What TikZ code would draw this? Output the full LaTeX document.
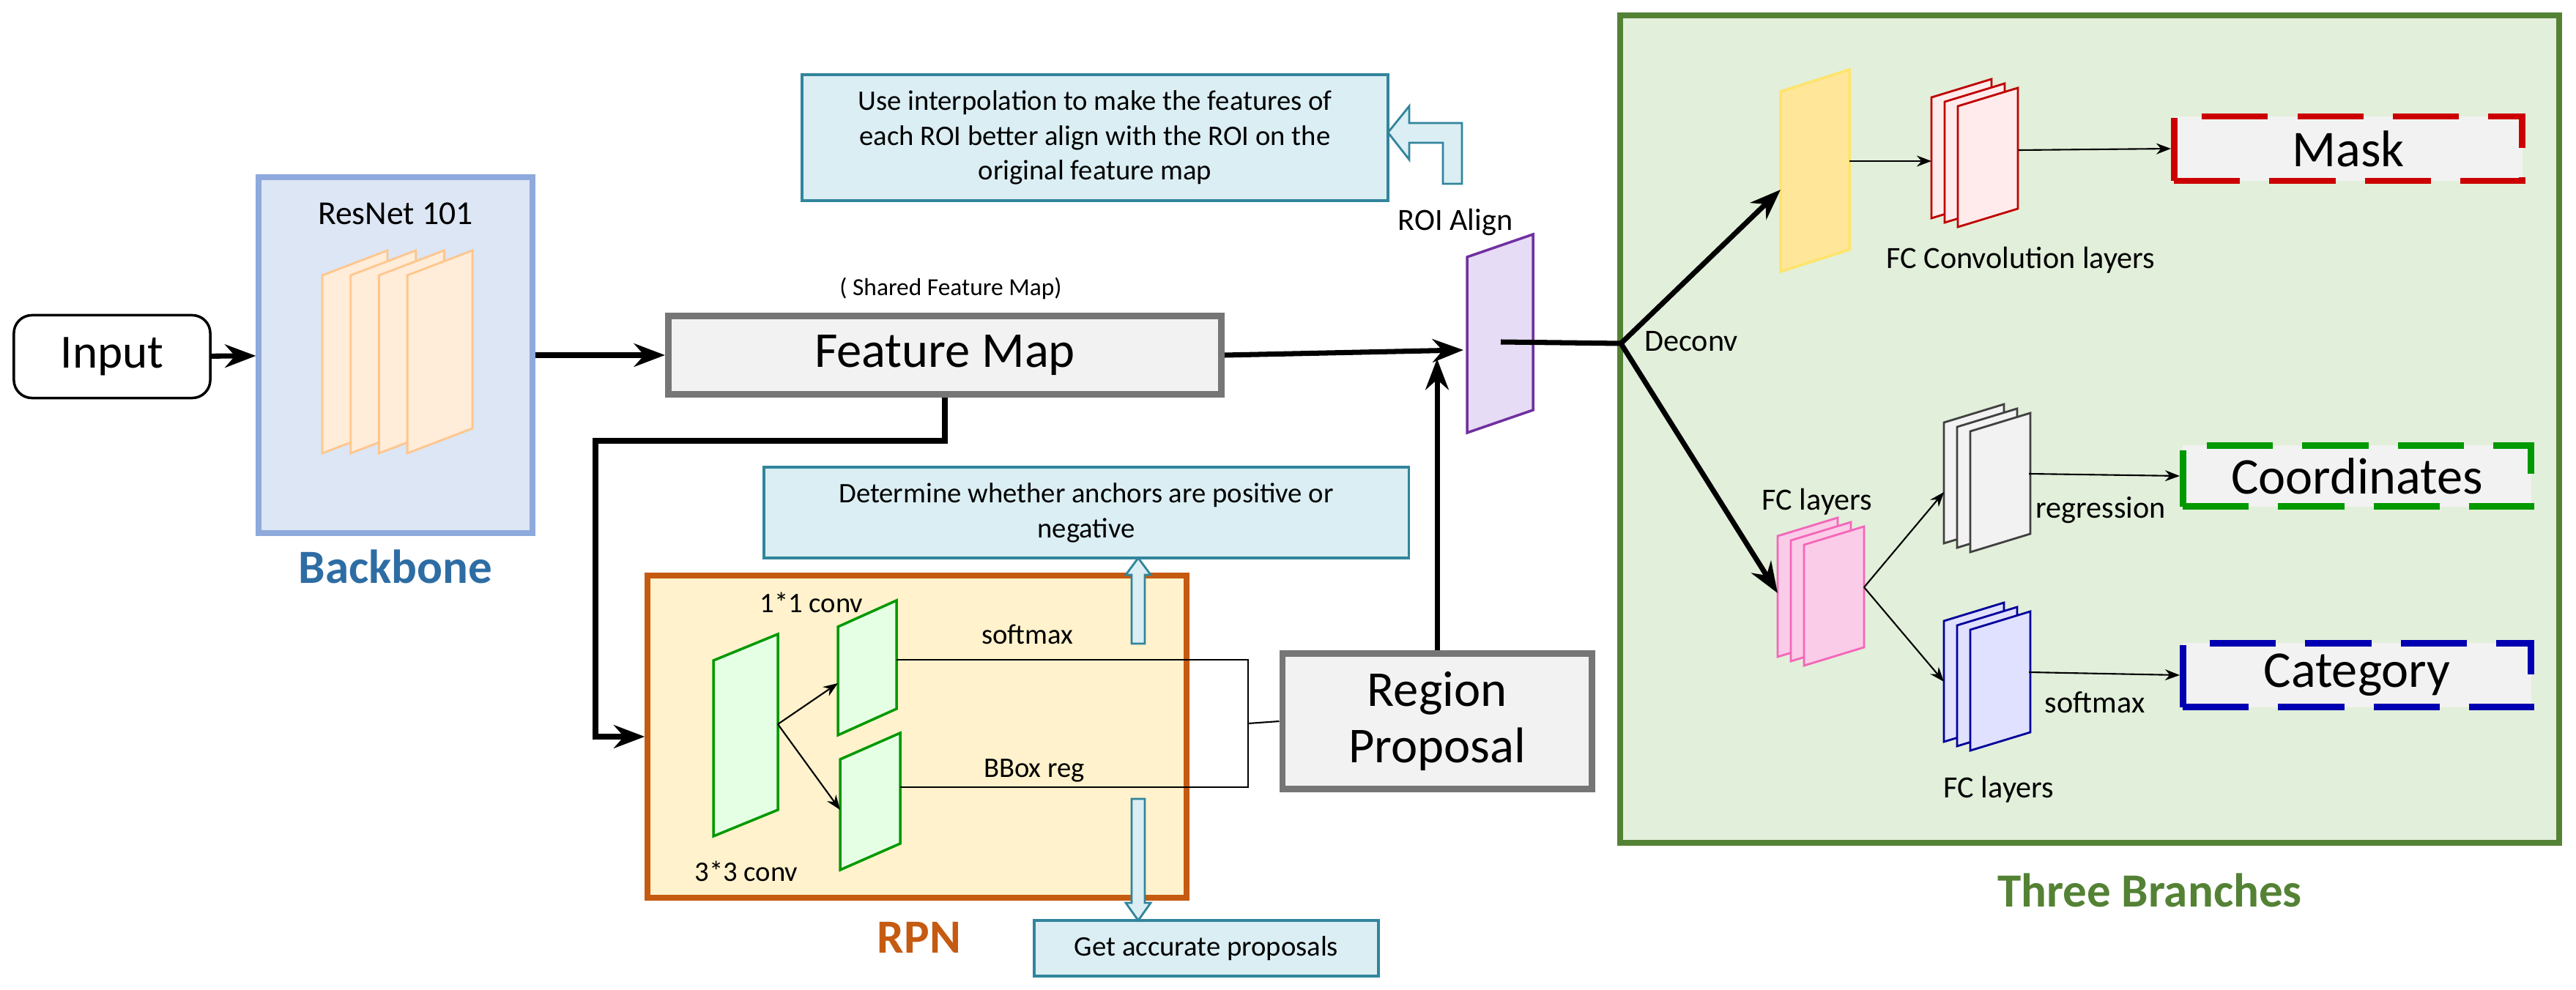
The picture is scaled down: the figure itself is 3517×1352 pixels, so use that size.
\documentclass[tikz,border=0pt]{standalone}
\usepackage{fontspec}
\setmainfont{Carlito}
\usepackage{tikz}
\usetikzlibrary{arrows.meta,positioning,calc}
\tikzset{>={Stealth[scale=1]}}

\definecolor{bbline}{HTML}{8EA9DB}
\definecolor{bbfill}{HTML}{DCE6F4}
\definecolor{bbtext}{HTML}{2E6DA4}
\definecolor{rpnline}{HTML}{C55A11}
\definecolor{rpnfill}{HTML}{FFF2CC}
\definecolor{brline}{HTML}{548235}
\definecolor{brfill}{HTML}{E2EFDA}
\definecolor{noteline}{HTML}{31859C}
\definecolor{notefill}{HTML}{DAEEF3}
\definecolor{mapline}{HTML}{767676}
\definecolor{mapfill}{HTML}{F2F2F2}
\definecolor{roiline}{HTML}{7030A0}
\definecolor{roifill}{HTML}{E6DCF5}
\definecolor{yelline}{HTML}{FFE46B}
\definecolor{yelfill}{HTML}{FFE699}

\tikzset{
  fs/.style n args={2}{font=\fontsize{#1}{#2}\selectfont},
  main/.style={draw=mapline, fill=mapfill, line width=2.5pt, fs={19.5}{22}, align=center},
  note/.style={draw=noteline, fill=notefill, line width=1pt, fs={11}{13.6}, align=center},
  label/.style={fs={11}{13}},
  big/.style={line width=2pt, ->},
  thin/.style={line width=0.6pt, ->},
  result/.style={fill=mapfill, line width=2.5pt, dash pattern=on 0.9cm off 0.4cm, fs={20}{22}, minimum width=4.75cm},
  blockarrow/.style={draw=noteline, fill=notefill, line width=0.8pt},
}

% one slanted sheet: x, y of right top, width, height, skew, style
\newcommand{\sheet}[6]{\draw[#6] ({#1},{#2+#5}) -- ({#1+#3},{#2}) -- ({#1+#3},{#2+#4}) -- ({#1},{#2+#4+#5}) -- cycle;}
\newcommand{\sheets}[3]{\foreach \k in {0,1,2}{\sheet{#1+18*\k}{#2+6*\k}{82}{165}{25}{#3}}}

\begin{document}
\begin{tikzpicture}[x=0.01cm, y=-0.01cm]
  \useasboundingbox (0,0) rectangle (3517,1352);

  % containers
  \node[draw=bbline, fill=bbfill, line width=2.3pt, minimum width=3.73cm, minimum height=4.86cm] (backbone) at (540,485) {};
  \node[draw=rpnline, fill=rpnfill, line width=2.3pt, minimum width=7.35cm, minimum height=4.39cm] (rpn) at (1252,1006) {};
  \node[draw=brline, fill=brfill, line width=2.3pt, minimum width=12.81cm, minimum height=11.29cm] (branches) at (2853,586) {};

  \node[text=bbtext, font=\fontsize{18.5}{20}\selectfont\bfseries] (bblabel) at (540,774) {Backbone};
  \node[text=rpnline, font=\fontsize{18.5}{20}\selectfont\bfseries] (rpnlabel) at (1255,1280) {RPN};
  \node[text=brline, font=\fontsize{18.5}{20}\selectfont\bfseries] (brlabel) at (2935,1216) {Three Branches};

  % main boxes
  \node[draw=black, fill=white, line width=1pt, rounded corners=7pt, minimum width=2.68cm, minimum height=1.13cm, fs={18.5}{20}] (input) at (153,487) {Input};
  \node[main, minimum width=7.55cm, minimum height=1.07cm] (fmap) at (1290,485) {Feature Map};
  \node[main, minimum width=4.22cm, minimum height=1.85cm] (proposal) at (1962,985) {Region\\Proposal};
  \node[fs={9.5}{11}] (shared) at (1298,394) {( Shared Feature Map)};

  % notes
  \node[note, minimum width=8cm, minimum height=1.72cm] (note1) at (1495,188) {Use interpolation to make the features of\\each ROI better align with the ROI on the\\original feature map};
  \node[note, minimum width=8.8cm, minimum height=1.24cm] (note2) at (1483,700) {Determine whether anchors are positive or\\negative};
  \node[note, minimum width=4.7cm, minimum height=0.76cm] (note3) at (1647,1295) {Get accurate proposals};

  % backbone sheets
  \node[fs={13}{15}] (resnet) at (540,292) {ResNet 101};
  \foreach \i in {0,...,3}{\sheet{440+38.7*\i}{342}{89}{243}{34}{draw=orange!45, fill=orange!15, line width=0.8pt}}

  % RPN sheets
  \sheet{974}{866}{88}{240}{36}{draw=green!60!black, fill=green!10, line width=1pt}
  \sheet{1144}{820}{80}{148}{36}{draw=green!60!black, fill=green!10, line width=1pt}
  \sheet{1147}{1001}{82}{151}{36}{draw=green!60!black, fill=green!10, line width=1pt}
  \node[label] (c11) at (1108,823) {1*1 conv};
  \node[label] (c33) at (1019,1190) {3*3 conv};
  \node[label] (smx) at (1403,866) {softmax};
  \node[label] (bbox) at (1412,1052) {BBox reg};

  % ROI align
  \sheet{2003}{320}{90}{240}{31}{draw=roiline, fill=roifill, line width=1pt}
  \node[fs={12}{14}] (roilabel) at (1987,303) {ROI Align};

  % branch sheets
  \sheet{2431}{95}{94}{246}{30}{draw=yelline, fill=yelfill, line width=1pt}
  \sheets{2637}{108}{draw=red!75!black, fill=red!8, line width=0.8pt}
  \sheets{2427}{707}{draw=magenta!60, fill=magenta!20, line width=0.8pt}
  \sheets{2654}{552}{draw=black!75, fill=black!5, line width=0.8pt}
  \sheets{2654}{823}{draw=blue!60!black, fill=blue!12, line width=0.8pt}
  \node[fs={12}{14}] (fcconv) at (2759,355) {FC Convolution layers};
  \node[fs={12}{14}] (fc1) at (2481,685) {FC layers};
  \node[fs={12}{14}] (fc2) at (2729,1078) {FC layers};
  \node[fs={12}{14}] (deconv) at (2309,466) {Deconv};
  \node[fs={12}{14}] (regr) at (2868,697) {regression};
  \node[fs={12}{14}] (smx2) at (2860,959) {softmax};

  % outputs
  \node[result, draw=red!80!black, minimum height=0.88cm] (mask) at (3206,203) {Mask};
  \node[result, draw=green!60!black, minimum height=0.83cm] (coord) at (3218,650) {Coordinates};
  \node[result, draw=blue!70!black, minimum height=0.87cm] (cat) at (3218,922) {Category};

  % connector ends
  \coordinate (roiL) at (1998,478);
  \coordinate (roiB) at (1962,490);
  \coordinate (roiC) at (2049,467);
  \coordinate (split) at (2213,469);
  \coordinate (bend) at (813,602);
  \coordinate (c33R) at (1062,989);
  \coordinate (c11aL) at (1144,933);
  \coordinate (c11bL) at (1147,1106);
  \coordinate (c11aR) at (1224,901);
  \coordinate (c11bR) at (1229,1075);
  \coordinate (join) at (1704,988);
  \coordinate (yelL) at (2431,259);
  \coordinate (yelR) at (2525,220);
  \coordinate (redL) at (2637,220);
  \coordinate (redR) at (2756,205);
  \coordinate (pinkL) at (2427,810);
  \coordinate (pinkR) at (2545,802);
  \coordinate (grayL) at (2654,672);
  \coordinate (grayR) at (2770,647);
  \coordinate (blueL) at (2654,931);
  \coordinate (blueR) at (2770,918);

  % connectors
  \draw[big] (input) -- (backbone);
  \draw[big] (backbone.east) -- (fmap.west);
  \draw[big] (fmap.east) -- (roiL);
  \draw[big] (fmap.south) |- (bend) |- (rpn.west);
  \draw[big] (proposal.north) -- (roiB);
  \draw[line width=2pt] (roiC) -- (split);
  \draw[big] (split) -- (yelL);
  \draw[big] (split) -- (pinkL);
  \draw[thin] (c33R) -- (c11aL);
  \draw[thin] (c33R) -- (c11bL);
  \draw[line width=0.6pt] (c11aR) -| (join |- c11bR) -- (c11bR);
  \draw[line width=0.6pt] (join) -- (proposal.west);
  \draw[thin] (yelR) -- (redL);
  \draw[thin] (redR) -- (mask.west);
  \draw[thin] (pinkR) -- (grayL);
  \draw[thin] (pinkR) -- (blueL);
  \draw[thin] (grayR) -- (coord.west);
  \draw[thin] (blueR) -- (cat.west);

  % block arrows
  \draw[blockarrow] (1545,879) -- (1563,879) -- (1563,785) -- (1571,785) -- (1554,762) -- (1537,785) -- (1545,785) -- cycle;
  \draw[blockarrow] (1545,1091) -- (1563,1091) -- (1563,1233) -- (1571,1233) -- (1554,1257) -- (1537,1233) -- (1545,1233) -- cycle;
  \draw[blockarrow] (1970,251) -- (1996,251) -- (1996,168) -- (1924,168) -- (1924,145) -- (1895,181) -- (1924,218) -- (1924,195) -- (1970,195) -- cycle;
\end{tikzpicture}
\end{document}
